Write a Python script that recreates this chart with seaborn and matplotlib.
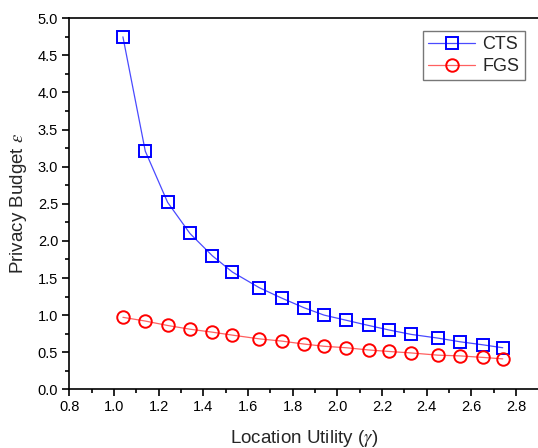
import matplotlib
matplotlib.use("Agg")
import matplotlib.pyplot as plt
from matplotlib.ticker import MultipleLocator
import seaborn as sns
import pandas as pd

# Location utility levels (gamma) and resulting privacy budgets
utility = [1.04, 1.14, 1.24, 1.34, 1.44, 1.53, 1.65, 1.75, 1.85,
           1.94, 2.04, 2.14, 2.23, 2.33, 2.45, 2.55, 2.65, 2.74]
cts = [4.75, 3.21, 2.52, 2.10, 1.80, 1.58, 1.37, 1.23, 1.10,
       1.00, 0.93, 0.86, 0.80, 0.74, 0.69, 0.64, 0.60, 0.56]
fgs = [0.97, 0.92, 0.86, 0.81, 0.77, 0.73, 0.68, 0.65, 0.61,
       0.58, 0.56, 0.53, 0.51, 0.49, 0.46, 0.45, 0.43, 0.41]
series_names = ["CTS", "FGS"]

sns.set_theme(style="ticks")
plt.rcParams["font.family"] = ["Liberation Sans", "DejaVu Sans"]
plt.rcParams["mathtext.fontset"] = "stix"

df = pd.DataFrame({
    "utility": utility * 2,
    "budget": cts + fgs,
    "scheme": [series_names[0]] * len(cts) + [series_names[1]] * len(fgs),
})

fig = plt.figure(figsize=(5.38, 4.48), dpi=100)
ax = fig.add_axes([69.3 / 538, 1 - 389.3 / 448, (538.5 - 69.3) / 538, (389.3 - 18.3) / 448])

styles = {
    "CTS": dict(marker="s", line="#4a4aff", edge="#0000ff", ms=8),
    "FGS": dict(marker="o", line="#ff6060", edge="#ff0000", ms=9),
}
for name in series_names:
    st = styles[name]
    sub = df[df["scheme"] == name]
    sns.lineplot(data=sub, x="utility", y="budget", ax=ax, color=st["line"],
                 marker=st["marker"], markersize=st["ms"], linewidth=0.9,
                 label=name)
    line = ax.lines[-1]
    line.set_markerfacecolor("none")
    line.set_markeredgecolor(st["edge"])
    line.set_markeredgewidth(1.4)

ax.set_xlim(0.8, 2.9)
ax.set_ylim(0.0, 5.0)
ax.xaxis.set_major_locator(MultipleLocator(0.2))
ax.xaxis.set_minor_locator(MultipleLocator(0.1))
ax.yaxis.set_major_locator(MultipleLocator(0.5))
ax.yaxis.set_minor_locator(MultipleLocator(0.25))
ax.xaxis.set_major_formatter(matplotlib.ticker.FormatStrFormatter("%.1f"))
ax.yaxis.set_major_formatter(matplotlib.ticker.FormatStrFormatter("%.1f"))

for side in ["left", "bottom", "top"]:
    ax.spines[side].set_linewidth(1.2)
    ax.spines[side].set_color("black")
ax.spines["right"].set_visible(False)
ax.tick_params(which="major", direction="out", length=5, width=1.2,
               labelsize=10.5, colors="black", pad=3)
ax.tick_params(which="minor", direction="out", length=3, width=1.2, colors="black")

ax.set_xlabel(r"Location Utility ($\gamma$)", fontsize=13.5, labelpad=10)
ax.set_ylabel(r"Privacy Budget $\varepsilon$", fontsize=13.5, labelpad=6)

leg = ax.legend(loc="upper right", bbox_to_anchor=(0.971, 0.966), fontsize=13,
                frameon=True, fancybox=False, handlelength=2.6,
                borderpad=0.3, labelspacing=0.25, handletextpad=0.4,
                borderaxespad=0)
leg.get_frame().set_edgecolor("#555555")
leg.get_frame().set_linewidth(1.0)

fig.savefig("out.png", dpi=100)
